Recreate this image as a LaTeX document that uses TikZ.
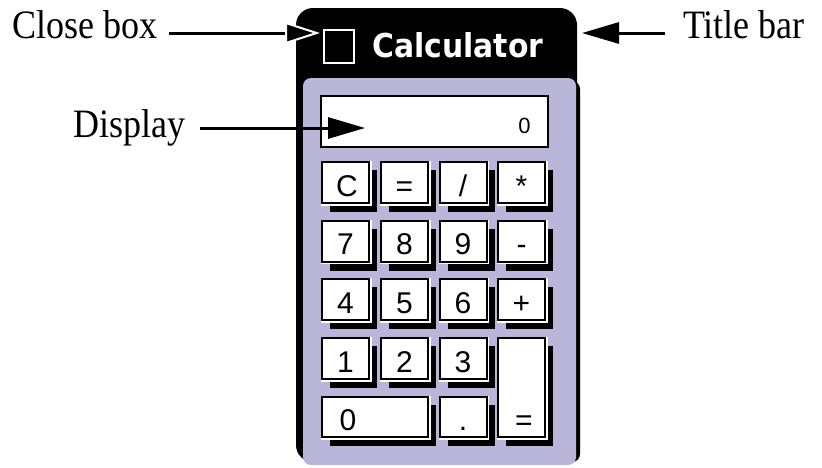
\documentclass[tikz,border=0pt]{standalone}
\usepackage{fontspec}
\setmainfont{Liberation Serif}
\newfontfamily\keyfont{Liberation Sans}
\newfontfamily\titlefont{DejaVu Sans}
\usetikzlibrary{arrows.meta}
\definecolor{lav}{RGB}{186,182,217}
\tikzset{
  lbl/.style={font=\fontsize{36}{40}\selectfont, inner sep=0pt, anchor=base west},
  arr/.style={line width=3pt, -{Triangle[length=37pt,width=21pt]}},
  keybox/.style={fill=white, draw=black, line width=2pt, inner sep=0pt, outer sep=0pt},
  keylbl/.style={font=\keyfont\fontsize{30}{32}\selectfont, inner sep=0pt, anchor=base},
}
\newcommand\calckey[7]{%
  \fill[black] (#2+8,#3+8) rectangle ++(#4,#5+1);
  \fill[white] (#2-1,#3-1) rectangle ++(#4+3.5,#5+3.5);
  \node[keybox, minimum width=#4pt, minimum height=#5pt, anchor=north west] (#1) at (#2,#3) {};
  \node[keylbl] (#1t) at (#2+#7,#3+#5-7) {#6};
}
\begin{document}
\begin{tikzpicture}[x=1pt,y=-1pt]
\useasboundingbox (0,0) rectangle (822,467);
% window
\fill[black, rounded corners=17pt] (296,8) rectangle (577,462);
\fill[black, rounded corners=8pt] (306,81) rectangle (580,462);
\fill[lav, rounded corners=8pt] (303,78) rectangle (576,465);
% title bar
\node[draw=white, line width=2pt, minimum width=30pt, minimum height=33pt, inner sep=0pt, anchor=north west] (closebox) at (323,29) {};
\node[inner sep=0pt, anchor=base west, text=white] (title) at (372,57)
  {\resizebox{171pt}{25pt}{\titlefont\bfseries\fontsize{33}{36}\selectfont Calculator}};
% display
\node[keybox, minimum width=227pt, minimum height=51pt, anchor=north west] (display) at (320.5,95.5) {};
\node[inner sep=0pt, anchor=base, font=\keyfont\fontsize{22}{24}\selectfont] (dispval) at (524.5,133) {0};
% keys
\calckey{kc}{322}{162}{47}{41}{C}{25}
\calckey{keq}{381}{162}{47}{41}{=}{23.5}
\calckey{kdiv}{439.5}{162}{47}{41}{/}{23.5}
\calckey{kmul}{498}{162}{47}{41}{*}{23.5}
\calckey{k7}{322}{220.5}{47}{41}{7}{23.5}
\calckey{k8}{381}{220.5}{47}{41}{8}{23.5}
\calckey{k9}{439.5}{220.5}{47}{41}{9}{23.5}
\calckey{kmin}{498}{220.5}{47}{41}{-}{23.5}
\calckey{k4}{322}{279}{47}{41}{4}{23.5}
\calckey{k5}{381}{279}{47}{41}{5}{23.5}
\calckey{k6}{439.5}{279}{47}{41}{6}{23.5}
\calckey{kplus}{498}{279}{47}{41}{+}{23.5}
\calckey{k1}{322}{338}{47}{41}{1}{23.5}
\calckey{k2}{381}{338}{47}{41}{2}{23.5}
\calckey{k3}{439.5}{338}{47}{41}{3}{23.5}
\calckey{kent}{498}{338}{47}{99}{=}{26}
\calckey{k0}{322}{397}{106}{40}{0}{26}
\calckey{kdot}{439.5}{397}{47}{40}{.}{23.5}
% labels and arrows
\node[lbl] (closelbl) at (12,38) {\scalebox{1}[1.12]{Close box}};
\node[lbl] (titlelbl) at (683,38) {\scalebox{1}[1.12]{Title bar}};
\node[lbl] (displbl) at (73,137) {\scalebox{1}[1.12]{Display}};
\coordinate (closetip) at (320,33);
\coordinate (titletip) at (582,33);
\coordinate (disptip) at (365,128);
\draw[line width=3pt, -{Triangle[length=35pt,width=22pt,line width=2pt,fill=black,color=white]}]
  ([xshift=12pt]closelbl.east |- closetip) -- (closetip);
\draw[arr] ([xshift=-18pt]titlelbl.west |- titletip) -- (titletip);
\draw[arr] ([xshift=15pt]displbl.east |- disptip) -- (disptip);
\end{tikzpicture}
\end{document}
